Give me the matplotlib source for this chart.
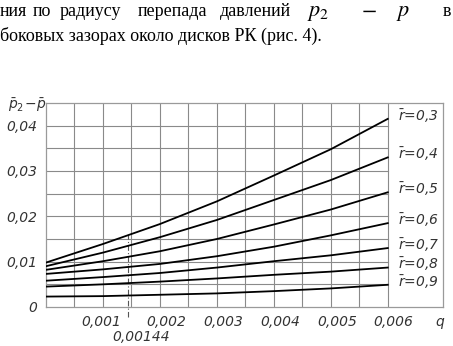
import matplotlib
matplotlib.use("Agg")
import matplotlib.pyplot as plt
import matplotlib.transforms as mtransforms

# расход q и кривые перепада давлений для разных r
q = [0, 0.001, 0.002, 0.003, 0.004, 0.005, 0.006]
r_labels = ["0,3", "0,4", "0,5", "0,6", "0,7", "0,8", "0,9"]
dp_03 = [0.0098, 0.0139, 0.0183, 0.0233, 0.0290, 0.0348, 0.0415]
dp_04 = [0.0090, 0.0120, 0.0154, 0.0192, 0.0236, 0.0280, 0.0330]
dp_05 = [0.0082, 0.0101, 0.0123, 0.0150, 0.0182, 0.0215, 0.0253]
dp_06 = [0.0073, 0.0083, 0.0095, 0.0112, 0.0133, 0.0158, 0.0185]
dp_07 = [0.0058, 0.0066, 0.0075, 0.0087, 0.0101, 0.0114, 0.0130]
dp_08 = [0.0045, 0.0050, 0.0056, 0.0063, 0.0071, 0.0078, 0.0087]
dp_09 = [0.0023, 0.0024, 0.0027, 0.0030, 0.0035, 0.0041, 0.0049]
curves = [dp_03, dp_04, dp_05, dp_06, dp_07, dp_08, dp_09]

x_ticks = [0.001, 0.002, 0.003, 0.004, 0.005, 0.006]
x_ticklabels = ["0,001", "0,002", "0,003", "0,004", "0,005", "0,006"]
y_ticks = [0, 0.01, 0.02, 0.03, 0.04]
y_ticklabels = ["0", "0,01", "0,02", "0,03", "0,04"]
q_mark = 0.00144
q_mark_top = 0.0158

W, H = 453, 346
fig = plt.figure(figsize=(W / 100, H / 100), dpi=100)
PT = 72 / 100  # пиксели -> пункты

# текст абзаца над рисунком
serif = "Liberation Serif"
fs = 13
line1 = [("ния", 0), ("по", 33), ("радиусу", 60), ("перепада", 138), ("давлений", 220), ("в", 443)]
for w, xp in line1:
    fig.text(xp / W, 1 - 16 / H, w, family=serif, fontsize=fs, va="baseline", ha="left")
for w, xp in [(r"$p_2$", 307), (r"$-$", 361), (r"$p$", 396)]:
    fig.text(xp / W, 1 - 16 / H, w, fontsize=16, va="baseline", ha="left",
             math_fontfamily="stix")
fig.text(0, 1 - 41 / H, "боковых зазорах около дисков РК (рис. 4).", family=serif,
         fontsize=fs, va="baseline", ha="left")

ax = fig.add_axes([46 / W, 39 / H, 397 / W, 204 / H])
ax.set_xlim(0, 0.00697)
ax.set_ylim(0, 0.045)

gc = "#8a8a8a"
for xv in [i * 0.0005 for i in range(1, 13)]:
    ax.plot([xv, xv], [0, 0.045], color=gc, lw=0.8, zorder=1)
for yv in [i * 0.005 for i in range(1, 9)]:
    ax.plot([0, 0.006], [yv, yv], color=gc, lw=0.8, zorder=1)
for s in ax.spines.values():
    s.set_color("#9a9a9a")
    s.set_linewidth(0.9)

tc = "#333333"
for ys, lab in zip(curves, r_labels):
    ax.plot(q, ys, color="black", lw=1.3, zorder=3)
    ax.annotate(r"$\bar{r}$=" + lab, xy=(q[-1], ys[-1]), xytext=(10 * PT, 3 * PT),
                textcoords="offset points", fontsize=10, style="italic", color=tc,
                va="center", ha="left", math_fontfamily="dejavusans")

ax.plot([q_mark, q_mark], [-0.0022, q_mark_top], color="#555555", lw=0.8,
        dashes=(5, 2, 1, 2), clip_on=False, zorder=2)

ax.set_xticks(x_ticks)
ax.set_xticklabels(x_ticklabels)
ax.set_yticks(y_ticks)
ax.set_yticklabels(y_ticklabels)
ax.tick_params(length=0, labelsize=10, colors=tc, pad=6)
for lab in ax.get_xticklabels() + ax.get_yticklabels():
    lab.set_style("italic")
shifts = [-2, 6, 6, 6, 6, 5]
for lab, dx in zip(ax.get_xticklabels(), shifts):
    lab.set_transform(lab.get_transform() + mtransforms.ScaledTranslation(dx / 100, 0, fig.dpi_scale_trans))

ax.annotate("0,00144", xy=(q_mark, 0), xytext=(-16 * PT, -30 * PT), textcoords="offset points",
            fontsize=10, style="italic", color=tc, ha="left", va="center")
ax.annotate("q", xy=(1, 0), xycoords="axes fraction", xytext=(-3 * PT, -15 * PT),
            textcoords="offset points", fontsize=10, style="italic", color=tc,
            ha="center", va="center")
ax.annotate(r"$\bar{p}_2\!-\!\bar{p}$", xy=(0, 1), xycoords="axes fraction",
            xytext=(-38 * PT, -2 * PT), textcoords="offset points", fontsize=10, color=tc,
            ha="left", va="center", math_fontfamily="dejavusans")

fig.savefig("out.png", dpi=100)
